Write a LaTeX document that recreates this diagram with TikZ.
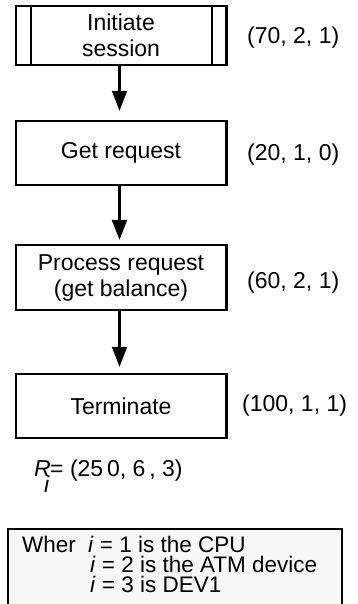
\documentclass[tikz,border=0pt]{standalone}
\usepackage{fontspec}
\setmainfont{Liberation Sans}
\usetikzlibrary{arrows.meta}
\begin{document}
\begin{tikzpicture}[x=1pt,y=-1pt,
  stage/.style={draw, line width=2.4pt, minimum width=210.6pt, inner sep=0pt,
    align=center, font=\fontsize{23}{26}\selectfont},
  flow/.style={line width=2.2pt, -{Triangle[length=20pt,width=15pt]}},
  cost/.style={anchor=west, inner sep=0pt, font=\fontsize{23}{26}\selectfont},
  total/.style={anchor=base west, inner sep=0pt, font=\fontsize{23}{23}\selectfont},
  note/.style={anchor=base west, inner sep=0pt, font=\fontsize{22.5}{20}\selectfont}]
\useasboundingbox (0,0) rectangle (358,604);
\clip (0,0) rectangle (358,604);

% process steps
\node[stage, minimum height=59pt] (init) at (121,35.5) {Initiate\\session};
\draw[line width=2.4pt] ([xshift=16.3pt]init.north west) -- ([xshift=16.3pt]init.south west);
\draw[line width=2.4pt] ([xshift=-15.3pt]init.north east) -- ([xshift=-15.3pt]init.south east);
\node[stage, minimum height=64pt] (get) at (121,153) {Get request};
\node[stage, minimum height=65pt] (proc) at (121,277.5) {Process request\\(get balance)};
\node[stage, minimum height=64pt] (term) at (121,406) {Terminate};

% flow between steps
\draw[flow, shorten >=9pt] ([xshift=-1.5pt]init.south) -- ([xshift=-1.5pt]get.north);
\draw[flow, shorten >=4pt] ([xshift=-1.5pt]get.south) -- ([xshift=-1.5pt]proc.north);
\draw[flow, shorten >=6pt] ([xshift=-1.5pt]proc.south) -- ([xshift=-1.5pt]term.north);

% resource demands per step
\node[cost] (c1) at (247,37.5) {(70, 2, 1)};
\node[cost] (c2) at (247,155) {(20, 1, 0)};
\node[cost] (c3) at (247,283) {(60, 2, 1)};
\node[cost] (c4) at (242,406) {(100, 1, 1)};

% total demand
\node[total] (rsym) at (34,476) {\itshape R};
\node[total] (rsub) at (44,492) {\itshape i};
\node[total] (rval) at (50,476) {= (25\,0, 6\,, 3)};

% legend
\node[draw, line width=2.4pt, fill=black!3, anchor=north west, minimum width=334pt,
  minimum height=100pt, inner sep=0pt] (legend) at (7,528) {};
\node[note] (w1) at (22,552) {Wher};
\node[note] (l1) at (88,552) {\textit{i} = 1 is the CPU};
\node[note] (l2) at (90,572) {\textit{i} = 2 is the ATM device};
\node[note] (l3) at (90,592) {\textit{i} = 3 is DEV1};
\end{tikzpicture}
\end{document}
